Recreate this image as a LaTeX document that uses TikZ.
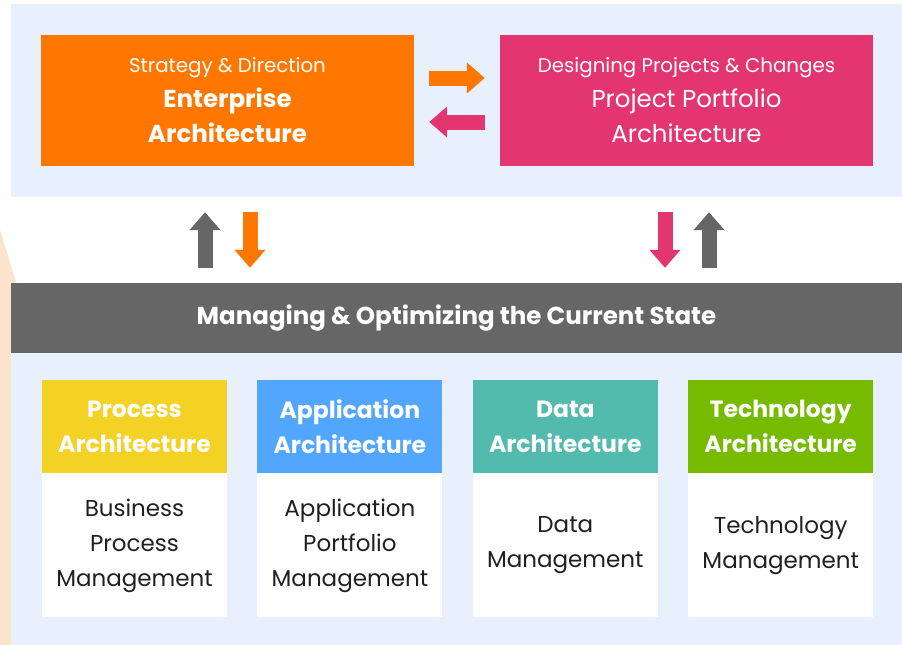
\documentclass[tikz,border=0pt]{standalone}
\usepackage{fontspec}
\setmainfont{Poppins}
\usetikzlibrary{arrows.meta,positioning}

\definecolor{panelblue}{HTML}{E8F0FD}
\definecolor{peach}{HTML}{FCE4CC}
\definecolor{eaorange}{HTML}{FF7700}
\definecolor{pppink}{HTML}{E3356F}
\definecolor{bargray}{HTML}{666666}
\definecolor{procyellow}{HTML}{F4D125}
\definecolor{appblue}{HTML}{52A6FE}
\definecolor{datateal}{HTML}{52BBAD}
\definecolor{techgreen}{HTML}{76BB00}
\definecolor{darktext}{HTML}{231F20}

\begin{document}
\begin{tikzpicture}[x=1pt,y=-1pt,
    box/.style={inner sep=0pt,align=center,text=white},
    head/.style={box,minimum width=185pt,minimum height=93pt,
                 font=\bfseries\fontsize{23.5}{35}\selectfont},
    body/.style={box,fill=white,text=darktext,minimum width=185pt,
                 minimum height=144pt,font=\fontsize{23}{35}\selectfont},
    link/.style={line width=15pt,-{Triangle[length=18pt,width=30pt]}}]
    \useasboundingbox (0,0) rectangle (902,645);

    % backgrounds
    \fill[peach] (0,230) -- (18,288) -- (18,645) -- (0,645) -- cycle;
    \fill[panelblue] (11,4) rectangle (902,197);
    \fill[panelblue] (11,353) rectangle (902,645);

    % top row
    \node[box,fill=eaorange,minimum width=373pt,minimum height=131pt,
          font=\fontsize{24.5}{35}\selectfont] (ea) at (227.5,100.5)
          {{\fontsize{19.8}{34}\selectfont Strategy \& Direction}\\
           \textbf{Enterprise}\\ \textbf{Architecture}};
    \node[box,fill=pppink,minimum width=373pt,minimum height=131pt,
          font=\fontsize{24.5}{35}\selectfont] (pp) at (686.5,100.5)
          {{\fontsize{19.8}{34}\selectfont Designing Projects \& Changes}\\
           Project Portfolio\\ Architecture};

    % current state bar
    \node[box,fill=bargray,minimum width=891pt,minimum height=70pt,
          font=\bfseries\fontsize{24.5}{28}\selectfont] (bar) at (456.5,318)
          {Managing \& Optimizing the Current State};

    % domain columns
    \node[head,fill=procyellow]                 (proc) at (134.5,426.5) {Process\\Architecture};
    \node[head,fill=appblue,right=30pt of proc]  (app)  {Application\\Architecture};
    \node[head,fill=datateal,right=30pt of app]  (data) {Data\\Architecture};
    \node[head,fill=techgreen,right=30pt of data] (tech) {Technology\\Architecture};

    \node[body,below=0pt of proc] (procbody) {Business\\Process\\Management};
    \node[body,below=0pt of app]  (appbody)  {Application\\Portfolio\\Management};
    \node[body,below=0pt of data] (databody) {Data\\Management};
    \node[body,below=0pt of tech] (techbody) {Technology\\Management};

    % arrows
    \draw[link,eaorange,shorten <=15pt,shorten >=15pt]
        ([yshift=22.5pt]ea.east) -- ([yshift=22.5pt]ea.east -| pp.west);
    \draw[link,pppink,shorten <=15pt,shorten >=15pt]
        ([yshift=-21.5pt]pp.west) -- ([yshift=-21.5pt]pp.west -| ea.east);
    \draw[link,bargray,shorten <=15pt,shorten >=46pt]
        ([xshift=-22.5pt]ea.south |- bar.north) -- ([xshift=-22.5pt]ea.south);
    \draw[link,eaorange,shorten <=46pt,shorten >=15pt]
        ([xshift=22.5pt]ea.south) -- ([xshift=22.5pt]ea.south |- bar.north);
    \draw[link,pppink,shorten <=46pt,shorten >=15pt]
        ([xshift=-21.5pt]pp.south) -- ([xshift=-21.5pt]pp.south |- bar.north);
    \draw[link,bargray,shorten <=15pt,shorten >=46pt]
        ([xshift=22.5pt]pp.south |- bar.north) -- ([xshift=22.5pt]pp.south);
\end{tikzpicture}
\end{document}
